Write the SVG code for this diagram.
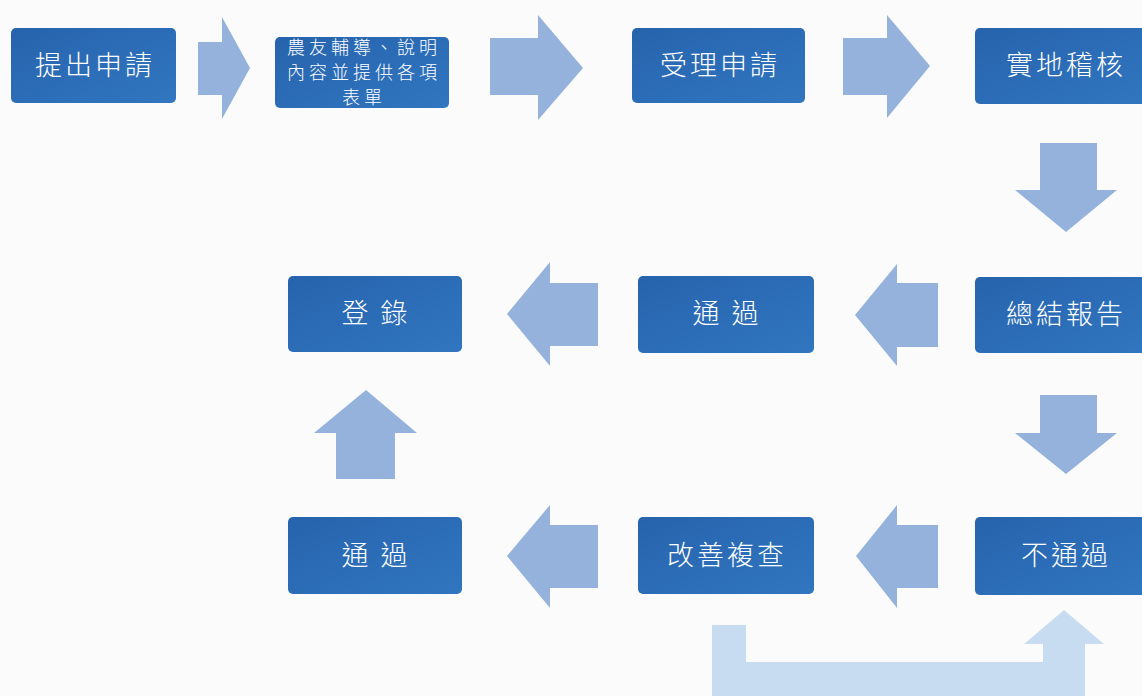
<svg xmlns="http://www.w3.org/2000/svg" width="1142" height="696" viewBox="0 0 1142 696">
<defs>
<linearGradient id="g" x1="0" y1="0" x2="1" y2="1">
<stop offset="0" stop-color="#2763ad"/>
<stop offset="1" stop-color="#3176c0"/>
</linearGradient>
<style>
.box{fill:url(#g);}
.t{fill:#ffffff;font-family:"Noto Sans CJK TC","Noto Sans CJK SC",sans-serif;font-size:27px;font-weight:300;text-anchor:middle;letter-spacing:3px;}
.s{fill:#ffffff;font-family:"Noto Sans CJK TC","Noto Sans CJK SC",sans-serif;font-size:18px;font-weight:300;text-anchor:middle;letter-spacing:4px;}
.arr{fill:#94b2dc;}
.lt{fill:#c7dcf1;}
</style>
</defs>
<rect width="1142" height="696" fill="#fbfbfb"/>
<g id="connectors">
<polygon class="arr" points="198,42 222,42 222,17 250,68 222,119 222,95 198,95"/>
<polygon class="arr" points="490,38 538,38 538,15 583,68 538,120 538,95 490,95"/>
<polygon class="arr" points="843,38 887,38 887,15 930,66 887,118 887,95 843,95"/>
<polygon class="arr" points="1040,143 1097,143 1097,190 1117,190 1066,232 1015,190 1040,190"/>
<polygon class="arr" points="938,283 938,347 897,347 897,366 855,315 897,264 897,283"/>
<polygon class="arr" points="598,283 598,346 550,346 550,366 507,314 550,262 550,283"/>
<polygon class="arr" points="336,479 336,433 314,433 366,390 417,433 395,433 395,479"/>
<polygon class="arr" points="1066,395 1097,395 1097,433 1117,433 1066,474 1015,433 1040,433 1040,395"/>
<polygon class="arr" points="598,525 598,588 550,588 550,608 507,556 550,505 550,525"/>
<polygon class="arr" points="938,525 938,588 897,588 897,608 856,556 897,505 897,525"/>
<polygon class="lt" points="712,625 746,625 746,662 1043,662 1043,644 1024,644 1064,610 1104,644 1085,644 1085,696 712,696"/>
</g>
<g id="n1"><rect class="box" x="11" y="28" width="165" height="75" rx="5"/><text class="t" x="95" y="75">提出申請</text></g>
<g id="n2"><rect class="box" x="275" y="37" width="174" height="71" rx="5"/>
<text class="s" x="364" y="54">農友輔導、說明</text>
<text class="s" x="364" y="79">內容並提供各項</text>
<text class="s" x="364" y="104">表單</text></g>
<g id="n3"><rect class="box" x="632" y="28" width="173" height="75" rx="5"/><text class="t" x="720" y="75">受理申請</text></g>
<g id="n4"><rect class="box" x="975" y="28" width="175" height="76" rx="5"/><text class="t" x="1066" y="75">實地稽核</text></g>
<g id="n5"><rect class="box" x="975" y="277" width="175" height="76" rx="5"/><text class="t" x="1066" y="324">總結報告</text></g>
<g id="n6"><rect class="box" x="638" y="276" width="176" height="77" rx="5"/><text class="t" x="727" y="323">通 過</text></g>
<g id="n7"><rect class="box" x="288" y="276" width="174" height="76" rx="5"/><text class="t" x="376" y="323">登 錄</text></g>
<g id="n8"><rect class="box" x="288" y="517" width="174" height="77" rx="5"/><text class="t" x="376" y="565">通 過</text></g>
<g id="n9"><rect class="box" x="638" y="517" width="176" height="77" rx="5"/><text class="t" x="727" y="565">改善複查</text></g>
<g id="n10"><rect class="box" x="975" y="517" width="175" height="78" rx="5"/><text class="t" x="1066" y="565">不通過</text></g>
</svg>
